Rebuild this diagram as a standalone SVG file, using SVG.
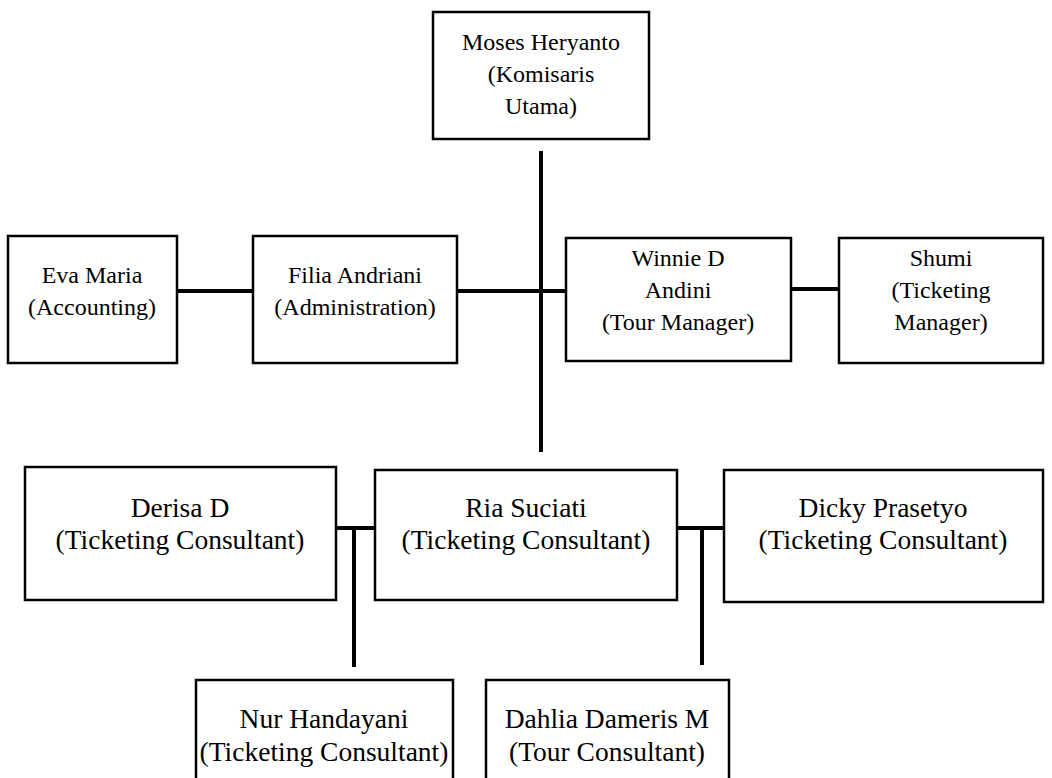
<svg xmlns="http://www.w3.org/2000/svg" width="1052" height="778" viewBox="0 0 1052 778">
<style>
.box{fill:#fff;stroke:#000;stroke-width:2.5}
.t{font-family:"Liberation Serif","Times New Roman",serif;font-size:24px;fill:#000;text-anchor:middle}
.b{font-size:27.5px}
.c{stroke:#000;stroke-width:4;fill:none}
</style>
<rect width="1052" height="778" fill="#fff"/>
<g id="connectors">
<line class="c" x1="541" y1="151" x2="541" y2="452"/>
<line class="c" x1="177" y1="291" x2="253" y2="291"/>
<line class="c" x1="457" y1="291" x2="566" y2="291"/>
<line class="c" x1="791" y1="289" x2="843" y2="289"/>
<line class="c" x1="336" y1="528" x2="375" y2="528"/>
<line class="c" x1="354" y1="528" x2="354" y2="667"/>
<line class="c" x1="677" y1="528" x2="724" y2="528"/>
<line class="c" x1="702" y1="528" x2="702" y2="665"/>
</g>
<g id="moses"><rect class="box" x="433" y="12" width="216" height="127"/>
<text class="t" x="541" y="50">Moses Heryanto</text><text class="t" x="541" y="82">(Komisaris</text><text class="t" x="541" y="114">Utama)</text></g>
<g id="eva"><rect class="box" x="8" y="236" width="169" height="127"/>
<text class="t" x="92" y="283">Eva Maria</text><text class="t" x="92" y="315">(Accounting)</text></g>
<g id="filia"><rect class="box" x="253" y="236" width="204" height="127"/>
<text class="t" x="355" y="283">Filia Andriani</text><text class="t" x="355" y="315">(Administration)</text></g>
<g id="winnie"><rect class="box" x="566" y="238" width="225" height="123"/>
<text class="t" x="678" y="266">Winnie D</text><text class="t" x="678" y="298">Andini</text><text class="t" x="678" y="330">(Tour Manager)</text></g>
<g id="shumi"><rect class="box" x="839" y="238" width="204" height="125"/>
<text class="t" x="941" y="266">Shumi</text><text class="t" x="941" y="298">(Ticketing</text><text class="t" x="941" y="330">Manager)</text></g>
<g id="derisa"><rect class="box" x="25" y="467" width="311" height="133"/>
<text class="t b" x="180" y="517">Derisa D</text><text class="t b" x="180" y="549">(Ticketing Consultant)</text></g>
<g id="ria"><rect class="box" x="375" y="470" width="302" height="130"/>
<text class="t b" x="526" y="517">Ria Suciati</text><text class="t b" x="526" y="549">(Ticketing Consultant)</text></g>
<g id="dicky"><rect class="box" x="724" y="470" width="319" height="132"/>
<text class="t b" x="883" y="517">Dicky Prasetyo</text><text class="t b" x="883" y="549">(Ticketing Consultant)</text></g>
<g id="nur"><rect class="box" x="196" y="680" width="257" height="110"/>
<text class="t b" x="324" y="728">Nur Handayani</text><text class="t b" x="324" y="761">(Ticketing Consultant)</text></g>
<g id="dahlia"><rect class="box" x="486" y="680" width="243" height="110"/>
<text class="t b" x="607" y="728">Dahlia Dameris M</text><text class="t b" x="607" y="761">(Tour Consultant)</text></g>
</svg>
